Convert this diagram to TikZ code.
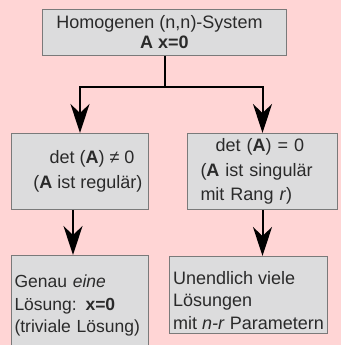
\documentclass[tikz,border=0pt]{standalone}
\usepackage{fontspec}
\setmainfont{Liberation Sans}
\usetikzlibrary{arrows.meta,positioning}
\definecolor{bgpink}{HTML}{FFD5D5}
\definecolor{boxgray}{HTML}{DCDCDD}
\definecolor{rimgray}{HTML}{7A7A7A}
\definecolor{txtgray}{HTML}{2A2A2A}
\tikzset{
  kasten/.style={draw=rimgray, fill=boxgray, line width=1pt, anchor=north west,
    inner sep=0pt, text=txtgray, font=\fontsize{18}{22.5}\selectfont},
  pfeil/.style={line width=2pt, -{Stealth[length=29pt,width=19pt,inset=9pt]}}
}
\begin{document}
\begin{tikzpicture}[x=1pt,y=-1pt]
            \fill[bgpink] (0,0) rectangle (341,345);
            \useasboundingbox (0,0) rectangle (341,345);

            \node[kasten, minimum width=244pt, minimum height=46pt, align=center,
              font=\fontsize{18}{20}\selectfont] (top) at (42,9)
              {Homogenen (n,n)-System\hspace*{10pt}\\\textbf{A x=0}};
            \node[kasten, minimum width=137pt, minimum height=76pt, align=center,
              font=\fontsize{18}{25}\selectfont] (regA) at (11,133)
              {\hspace*{24pt}det (\textbf{A}) ≠ 0\\\hspace*{16pt}(\textbf{A} ist regulär)};
            \node[kasten, minimum width=137pt, minimum height=76pt, align=left,
              text width=124pt, inner xsep=13pt, font=\fontsize{18}{24.5}\selectfont] (singA) at (187,133)
              {\hspace*{15pt}det (\textbf{A}) = 0\\(\textbf{A} ist singulär\\mit Rang \textit{r})};
            \node[kasten, minimum width=137pt, minimum height=100pt, align=left,
              text width=131pt, inner xsep=3pt, font=\fontsize{17.5}{22.5}\selectfont] (einL) at (11,255)
              {Genau \textit{eine}\\Lösung: \textbf{x=0}\\(triviale Lösung)};
            \node[kasten, minimum width=158pt, minimum height=77pt, align=left,
              inner xsep=3pt] (unendL) at (169,256)
              {\rule{0pt}{24pt}Unendlich viele\\Lösungen\\mit \textit{n-r} Parametern};

            \draw[line width=2pt] (top.south) -- ++(0,31) coordinate (gabel);
            \draw[pfeil] (gabel) -| (regA.north); \draw[pfeil] (gabel) -| (singA.north);
            \draw[pfeil] ([xshift=-7pt]regA.south) -- ([xshift=-7pt]regA.south |- einL.north);
            \draw[pfeil] (singA.south) -- (singA.south |- unendL.north);
        \end{tikzpicture}
\end{document}
